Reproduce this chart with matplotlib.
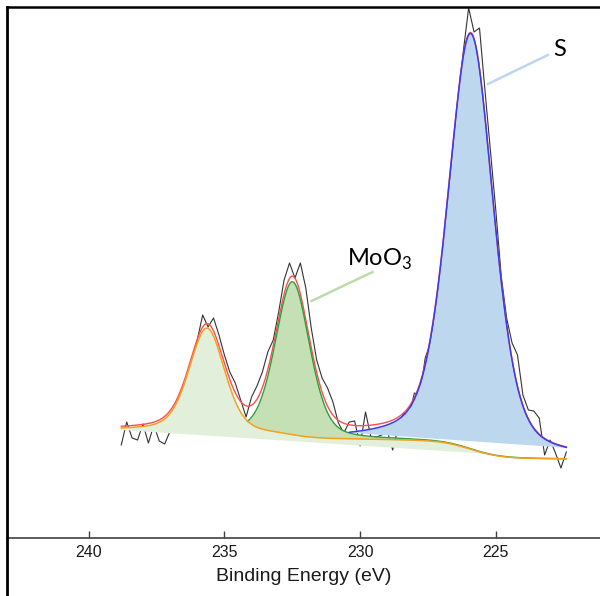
import numpy as np
import matplotlib.pyplot as plt
from matplotlib.lines import Line2D

plt.rcParams["font.family"] = ["Liberation Sans", "DejaVu Sans"]
plt.rcParams["mathtext.fontset"] = "custom"
plt.rcParams["mathtext.rm"] = "Lato"

# raw spectrum, 0.2 eV step
be_raw = [238.8, 238.6, 238.4, 238.2, 238.0, 237.8, 237.6, 237.4, 237.2, 237.0,
          236.8, 236.6, 236.4, 236.2, 236.0, 235.8, 235.6, 235.4, 235.2, 235.0,
          234.8, 234.6, 234.4, 234.2, 234.0, 233.8, 233.6, 233.4, 233.2, 233.0,
          232.8, 232.6, 232.4, 232.2, 232.0, 231.8, 231.6, 231.4, 231.2, 231.0,
          230.8, 230.6, 230.4, 230.2, 230.0, 229.8, 229.6, 229.4, 229.2, 229.0,
          228.8, 228.6, 228.4, 228.2, 228.0, 227.8, 227.6, 227.4, 227.2, 227.0,
          226.8, 226.6, 226.4, 226.2, 226.0, 225.8, 225.6, 225.4, 225.2, 225.0,
          224.8, 224.6, 224.4, 224.2, 224.0, 223.8, 223.6, 223.4, 223.2, 223.0,
          222.8, 222.6, 222.4]
counts_raw = [93, 116, 100, 98, 114, 95, 113, 97, 94, 107,
              130, 144, 155, 176, 198, 223, 211, 220, 203, 183,
              166, 155, 138, 121, 141, 152, 166, 186, 198, 226,
              258, 275, 260, 275, 250, 210, 178, 160, 150, 136,
              115, 105, 116, 117, 92, 126, 101, 101, 103, 107,
              88, 110, 125, 121, 145, 143, 180, 196, 228, 268,
              320, 380, 438, 486, 530, 506, 510, 448, 388, 328,
              262, 220, 195, 183, 143, 128, 127, 120, 83, 98,
              85, 70, 86]

# fitted components: centre (eV), height, fwhm (eV), lorentz fraction
peak_names = ["MoO3 3d3/2", "MoO3 3d5/2", "S 2s"]
peak_centre = [235.64, 232.49, 225.92]
peak_height = [104, 155, 416]
peak_fwhm = [1.55, 1.5, 1.98]
peak_mix = [0.35, 0.35, 0.38]
bg_left = 108
bg_right = 79


def gl(x, c, h, w, m):
    g = np.exp(-4 * np.log(2) * (x - c) ** 2 / w ** 2)
    l = 1 / (1 + 4 * (x - c) ** 2 / w ** 2)
    return h * ((1 - m) * g + m * l)


E = np.linspace(222.4, 238.8, 1200)
peaks = [gl(E, peak_centre[i], peak_height[i], peak_fwhm[i], peak_mix[i]) for i in range(3)]
total = peaks[0] + peaks[1] + peaks[2]
# shirley type step background
cum = np.concatenate([[0], np.cumsum((total[1:] + total[:-1]) / 2 * np.diff(E))])
bg = bg_right + (bg_left - bg_right) * cum / cum[-1]
lin = bg_right + (bg_left - bg_right) * (E - E[0]) / (E[-1] - E[0])

fig = plt.figure(figsize=(6, 5.96), dpi=100)
ax = fig.add_axes([7 / 600, 58 / 596, 593 / 600, 531 / 596])

c1 = bg + peaks[0]
c2 = bg + peaks[1]
c3 = bg + peaks[2]
env = bg + total

ax.plot(be_raw, counts_raw, color="#333333", lw=0.8, zorder=1)

ax.fill_between(E, lin, c1, where=c1 >= lin, color="#e2efda", lw=0, zorder=2)
ax.fill_between(E, c1, c2, where=c2 > c1, color="#c5e0b4", lw=0, zorder=2)
s_reg = E <= 230.4
Es = E[s_reg]
c3s = c3[s_reg]
lin3 = c3s[0] + (c3s[-1] - c3s[0]) * (Es - Es[0]) / (Es[-1] - Es[0])
ax.fill_between(Es, lin3, c3s, where=c3s >= lin3, color="#bdd7ee", lw=0, zorder=2)

m_reg = E <= 234.15
ax.plot(E, env, color="#ff4d4d", lw=1.0, zorder=3)
ax.plot(E[m_reg], c2[m_reg], color="#2e9e3e", lw=1.0, zorder=4)
ax.plot(Es, c3s, color="#3a3af0", lw=1.1, zorder=4)
ax.plot(E, c1, color="#f4a020", lw=1.1, zorder=4)

# labels with leader lines
ax.plot([225.29, 223.08], [454, 483], color="#bdd7ee", lw=1.8, zorder=5)
ax.text(222.64, 488, "S", fontsize=17, family="Lato", ha="center", va="center")
ax.plot([231.79, 229.54], [237, 266], color="#bcdcaa", lw=1.8, zorder=5)
ax.text(230.50, 272, "MoO$_3$", fontsize=17, family="Lato", ha="left", va="baseline")

ax.set_xlim(243.01, 221.16)
ax.set_ylim(0, 531)
ax.set_xticks([240, 235, 230, 225])
ax.set_yticks([])
ax.tick_params(axis="x", direction="in", length=5, width=1, color="#404040",
               labelsize=11.5, pad=5, labelcolor="#1a1a1a")
ax.set_xlabel("Binding Energy (eV)", fontsize=14, labelpad=6, color="#1a1a1a")

ax.spines["right"].set_visible(False)
ax.spines["left"].set_visible(False)
ax.spines["top"].set_color("black")
ax.spines["top"].set_linewidth(1.8)
ax.spines["bottom"].set_color("#404040")
ax.spines["bottom"].set_linewidth(1.2)

# left frame line runs past the bottom axis
fig.add_artist(Line2D([7 / 600, 7 / 600], [0, 1 - 7 / 596], color="black", lw=2))

plt.savefig("out.png", dpi=100)
